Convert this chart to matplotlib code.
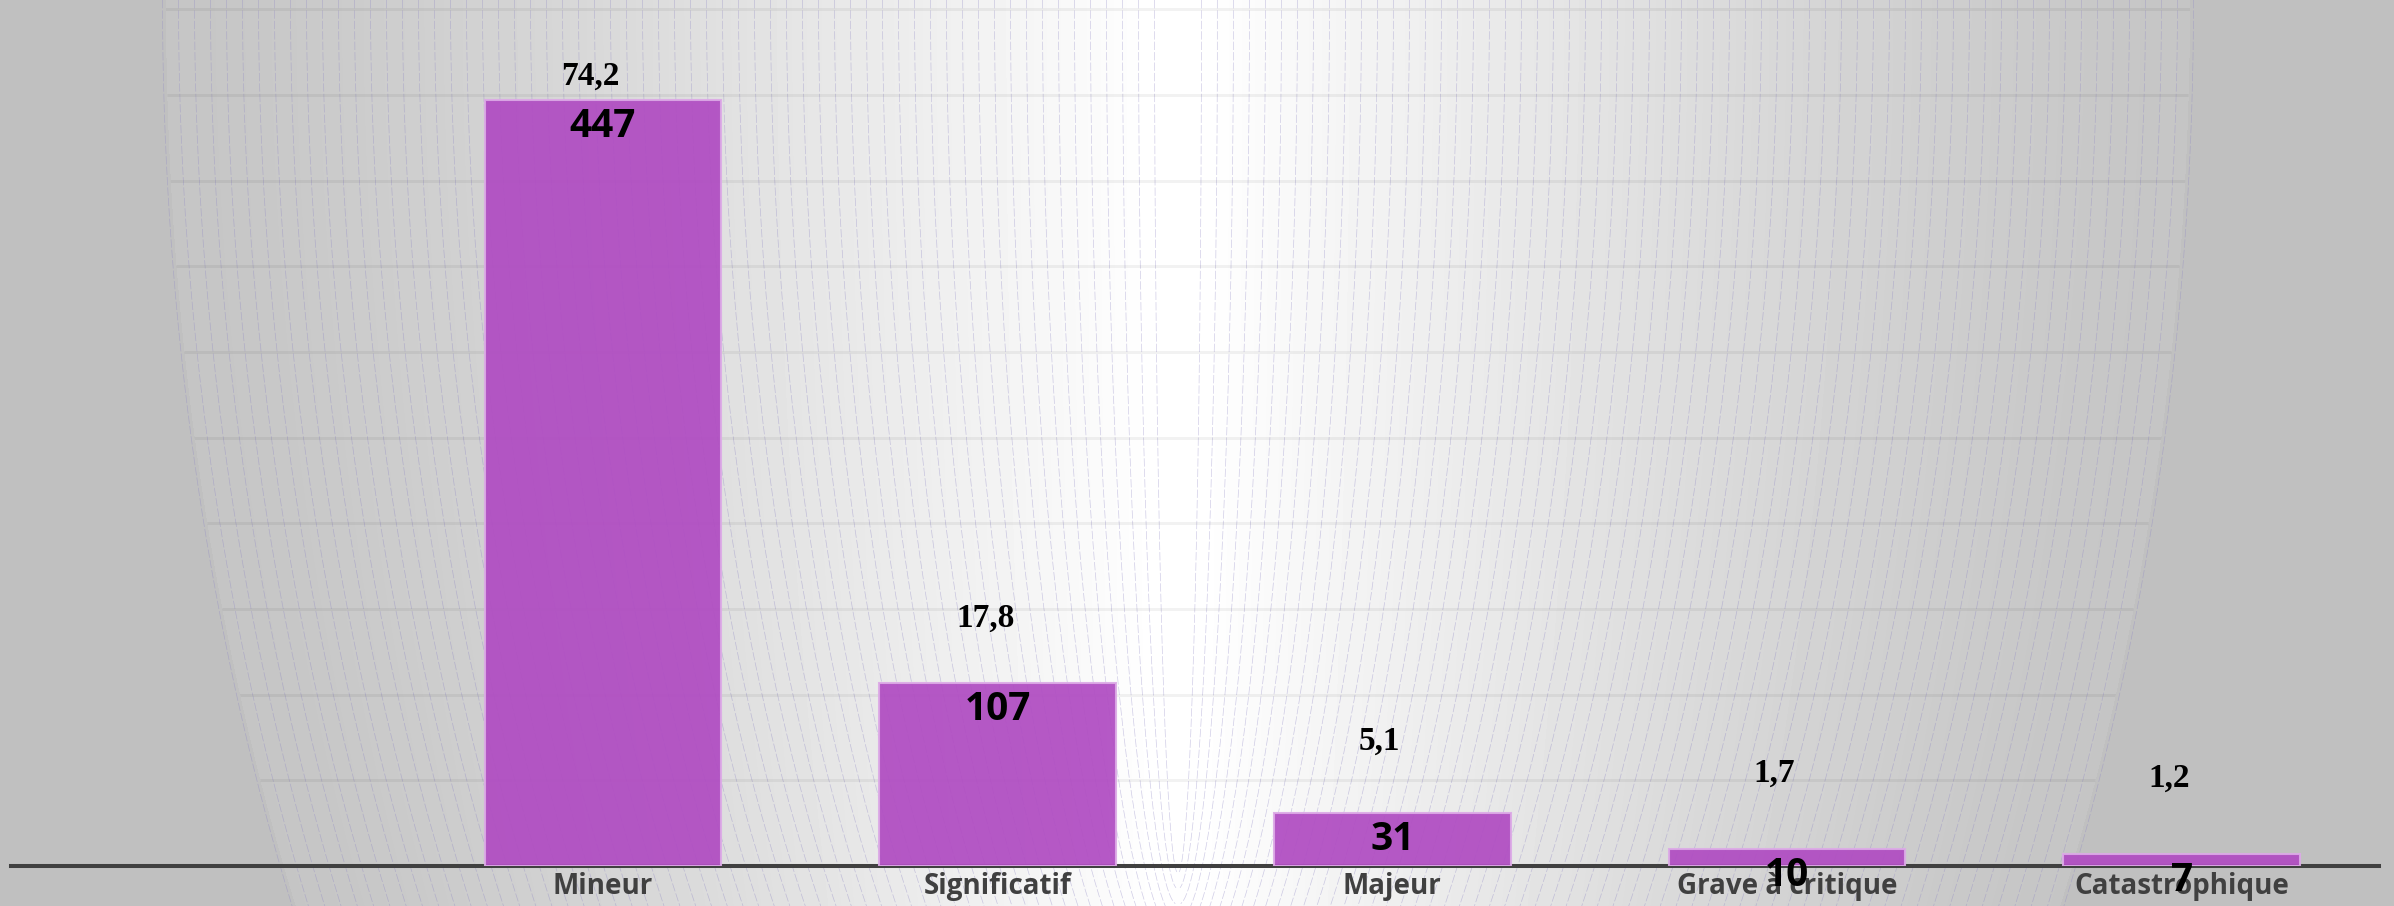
import numpy as np
import matplotlib
matplotlib.use("Agg")
import matplotlib.pyplot as plt
from matplotlib.patches import Polygon

# --------------------------------------------------------------
# Data
# --------------------------------------------------------------
categories = ["Mineur", "Significatif", "Majeur", "Grave à critique", "Catastrophique"]
counts = [447, 107, 31, 10, 7]
percents = [74.2, 17.8, 5.1, 1.7, 1.2]
grid_levels = [50, 100, 150, 200, 250, 300, 350, 400, 450, 500]

# --------------------------------------------------------------
# Figure + decorative background (pixel coordinates)
# --------------------------------------------------------------
W, H = 2394, 906
fig = plt.figure(figsize=(W / 100, H / 100), dpi=100)
fig.patch.set_facecolor("#c0c0c0")

bg = fig.add_axes([0, 0, 1, 1])
bg.set_xlim(0, W)
bg.set_ylim(H, 0)
bg.axis("off")

cx = 1178.0
half_w = 1012.0
depth = 1850.0

yy, xx = np.mgrid[0:H, 0:W] + 0.5
w_y = half_w * np.sqrt(np.clip(1 - (yy / depth) ** 2, 0, None))
d = np.abs(xx - cx) / w_y
f = np.clip(0.08 + 0.95 * np.clip(1 - d, 0, None) ** 1.3, 0, 1)
val = np.where(d < 1, 192 + 63 * f, 192) / 255.0
bg.imshow(val, cmap="gray", vmin=0, vmax=1, extent=(0, W, H, 0),
          interpolation="bilinear", aspect="auto")

# fan of thin dashed curves
ys = np.linspace(0, H, 400)
for k in range(63):
    wk = 23.5 + 16 * k
    yk = 850 + (depth - 850) / half_w * wk
    s = np.sqrt(np.clip(1 - (ys / yk) ** 2, 0, None))
    m = ys <= yk
    for sign in (-1, 1):
        bg.plot(cx + sign * wk * s[m], ys[m], color="#8c84c4", lw=0.5,
                alpha=0.4, ls=(0, (12, 3)))

# outline of the light area, used to clip the horizontal grid
yb = np.linspace(0, H, 200)
wb = half_w * np.sqrt(np.clip(1 - (yb / depth) ** 2, 0, None))
outline = np.vstack([np.column_stack([cx - wb, yb]),
                     np.column_stack([cx + wb, yb])[::-1]])
clip_patch = Polygon(outline, closed=True, transform=bg.transData)

# --------------------------------------------------------------
# Bar chart
# --------------------------------------------------------------
ax = fig.add_axes([11 / W, (H - 866) / H, 2368 / W, 866 / H])
ax.patch.set_alpha(0)
x = np.arange(len(categories))

ax.set_xlim(-1.5, 4.5)
ax.set_ylim(0, 505.4)

for lvl in grid_levels:
    gl = ax.axhline(lvl, color="black", alpha=0.05, lw=2.2, zorder=0)
    gl.set_clip_path(clip_patch)

ax.bar(x, counts, width=0.6, color="#b04cc2", alpha=0.93,
       edgecolor="#dcaae6", linewidth=1.5, zorder=3)

for i, c in enumerate(counts):
    ax.annotate(str(c), (x[i], c), xytext=(0, -19), textcoords="offset points",
                ha="center", va="center", fontsize=28, fontweight="bold",
                family="Open Sans", color="black", zorder=5)

ax.set_xticks(x)
ax.set_xticklabels(categories, fontsize=20, fontweight="bold",
                   family="Open Sans", color="#404040")
ax.tick_params(axis="x", length=0, pad=4.5)
ax.set_yticks([])
for side in ("left", "right", "top"):
    ax.spines[side].set_visible(False)
ax.spines["bottom"].set_color("#404040")
ax.spines["bottom"].set_linewidth(2.9)
ax.spines["bottom"].set_zorder(2)

# percentage labels on a hidden secondary scale
ax2 = ax.twinx()
ax2.set_ylim(-7.9, 82.1)
ax2.axis("off")
for i, p in enumerate(percents):
    ax2.annotate(f"{p:.1f}".replace(".", ","), (x[i], p), xytext=(-9, 0),
                 textcoords="offset points", ha="center", va="center",
                 fontsize=24, fontweight="bold", family="Liberation Serif",
                 color="black")

fig.savefig("out.png", dpi=100, facecolor=fig.get_facecolor())
